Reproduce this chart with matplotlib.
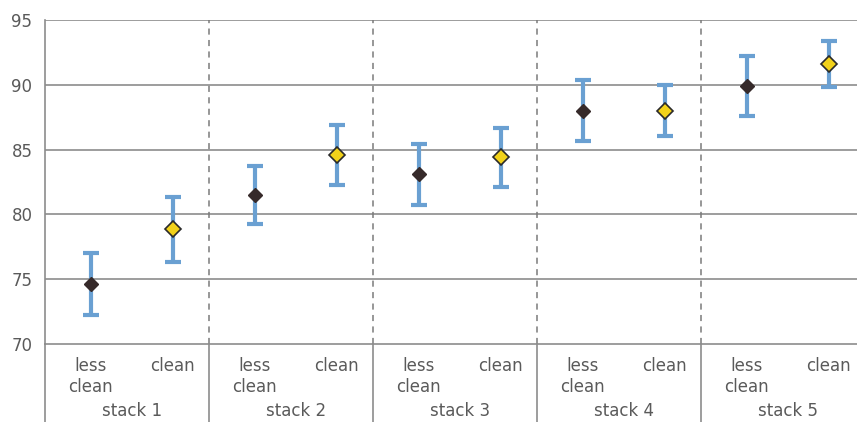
import matplotlib.pyplot as plt
from matplotlib import transforms

# data
stacks = ['stack 1', 'stack 2', 'stack 3', 'stack 4', 'stack 5']
conditions = ['less\nclean', 'clean']
less_clean = [74.6, 81.5, 83.1, 88.0, 89.9]
less_clean_err = [2.4, 2.25, 2.35, 2.35, 2.3]
clean = [78.85, 84.6, 84.4, 88.0, 91.6]
clean_err = [2.5, 2.3, 2.3, 1.95, 1.8]

grid_col = '#8c8c8c'
text_col = '#5a5a5a'
err_col = '#6aa0d2'
fs = 12
shift = 0.06  # points sit slightly right of category centres

fig = plt.figure(figsize=(8.57, 4.22), dpi=100)
ax = fig.add_axes([45 / 857, 78 / 422, 820 / 857, 324 / 422])

n = len(stacks)
x_less = [2 * i + shift for i in range(n)]
x_clean = [2 * i + 1 + shift for i in range(n)]

ax.errorbar(x_less, less_clean, yerr=less_clean_err, fmt='none', ecolor=err_col,
            elinewidth=3, capsize=6, capthick=3, zorder=3)
ax.errorbar(x_clean, clean, yerr=clean_err, fmt='none', ecolor=err_col,
            elinewidth=3, capsize=6, capthick=3, zorder=3)
ax.plot(x_less, less_clean, 'D', color='#362a2a', markersize=7.5, zorder=4)
ax.plot(x_clean, clean, 'D', color='#f2d21a', markeredgecolor='#2a2a2a',
        markeredgewidth=1.2, markersize=8, zorder=4)

ax.set_xlim(-0.5, 2 * n - 0.5)
ax.set_ylim(70, 95)
ax.set_yticks(range(70, 96, 5))
for y in range(75, 96, 5):
    ax.axhline(y, color=grid_col, lw=1.2, zorder=1)

# dashed dividers between stacks
for i in range(1, n):
    ax.axvline(2 * i - 0.5, color='#7a7a7a', lw=1.1, ls=(0, (4, 3.5)), zorder=1)

for s in ['top', 'right']:
    ax.spines[s].set_visible(False)
ax.spines['left'].set_color(grid_col)
ax.spines['bottom'].set_color(grid_col)
ax.spines['left'].set_linewidth(1.2)
ax.spines['bottom'].set_linewidth(1.2)

# category labels below axis
trans = transforms.blended_transform_factory(ax.transData, ax.transAxes)
ax.set_xticks([])
for i in range(n):
    ax.text(x_less[i], -13 / 324, conditions[0], transform=trans, ha='center', va='top',
            fontsize=fs, color=text_col, linespacing=1.25)
    ax.text(x_clean[i], -13 / 324, conditions[1], transform=trans, ha='center', va='top',
            fontsize=fs, color=text_col)
    ax.text(2 * i + 0.5 + shift, -76 / 324, stacks[i], transform=trans, ha='center',
            va='bottom', fontsize=fs, color=text_col)

# solid separators in the label area
for i in range(0, n + 1):
    ax.plot([2 * i - 0.5] * 2, [0, -1], transform=trans, color=grid_col, lw=1.2,
            clip_on=False)

ax.tick_params(axis='y', length=0, pad=9, labelsize=fs, labelcolor=text_col)

fig.savefig('out.png', dpi=100)
